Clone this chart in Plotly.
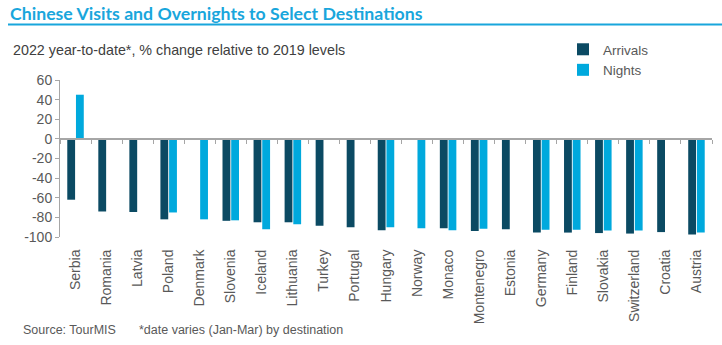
import plotly.graph_objects as go

countries = ["Serbia", "Romania", "Latvia", "Poland", "Denmark", "Slovenia", "Iceland",
             "Lithuania", "Turkey", "Portugal", "Hungary", "Norway", "Monaco", "Montenegro",
             "Estonia", "Germany", "Finland", "Slovakia", "Switzerland", "Croatia", "Austria"]
arrivals = [-62, -74, -74.5, -82, None, -83.5, -85, -85, -88.5, -90, -93, None, -91, -94,
            -92, -95.5, -95.5, -96, -96.5, -95, -97.5]
nights = [45, None, None, -75, -82, -83, -92, -87, None, None, -90, -91, -93, -91.5,
          None, -92.5, -92.5, -93.5, -93.5, None, -95.5]

y_ticks = [60, 40, 20, 0, -20, -40, -60, -80, -100]
y_labels = ["60", "40", "20", "0", "-20", "-40", "-60", "-80", "-100"]

DARK = "#0b4a63"
CYAN = "#00a9dd"
GREY_TXT = "#595959"
AXIS = "#a6a6a6"
TITLE_C = "#19a6dc"

W, H = 722, 345
L, R, T, B = 60, 10, 80, 108
PW = W - L - R
PH = H - T - B


def px_x(px):
    return (px - L) / PW


def px_y(py):
    return (H - B - py) / PH


fig = go.Figure()
fig.add_trace(go.Bar(x=countries, y=arrivals, name="Arrivals", marker_color=DARK,
                     marker_line_width=0))
fig.add_trace(go.Bar(x=countries, y=nights, name="Nights", marker_color=CYAN,
                     marker_line_width=0))
# helper trace so that the zero-line axis knows the categories
fig.add_trace(go.Scatter(x=countries, y=[None] * len(countries), xaxis="x2",
                         mode="markers", showlegend=False, hoverinfo="skip"))

fig.update_layout(
    width=W, height=H,
    margin=dict(l=L, r=R, t=T, b=B, pad=0),
    paper_bgcolor="white", plot_bgcolor="white",
    barmode="group", bargap=0.44, bargroupgap=0.1,
    font=dict(family="Liberation Sans, Arial, sans-serif", color=GREY_TXT, size=14),
    showlegend=True,
    legend=dict(x=px_x(563), y=px_y(34), xanchor="left", yanchor="top",
                font=dict(size=13.5, color=GREY_TXT), bgcolor="rgba(0,0,0,0)",
                tracegroupgap=0, itemwidth=30),
    xaxis=dict(type="category", range=[-0.5, len(countries) - 0.5],
               tickangle=-90, ticks="outside", ticklen=6, tickcolor="rgba(0,0,0,0)",
               showline=False, showgrid=False, zeroline=False,
               tickfont=dict(size=14, color=GREY_TXT)),
    xaxis2=dict(type="category", overlaying="x", anchor="free",
                position=(0 - (-100)) / (60 - (-100)),
                range=[-0.5, len(countries) - 0.5], showticklabels=False,
                showline=True, linecolor=AXIS, linewidth=1.5,
                ticks="outside", ticklen=4, tickcolor=AXIS, tickwidth=1,
                tickson="boundaries", showgrid=False, zeroline=False),
    yaxis=dict(range=[-100, 60], tickvals=y_ticks, ticktext=y_labels, showgrid=False,
               zeroline=False, showline=True, linecolor=AXIS, linewidth=1,
               ticks="outside", ticklen=4, tickcolor=AXIS,
               tickfont=dict(size=14, color=GREY_TXT)),
)

fig.add_annotation(text="<b>Chinese Visits and Overnights to Select Destinations</b>",
                   xref="paper", yref="paper", x=px_x(8), y=px_y(13), xanchor="left",
                   yanchor="middle", showarrow=False,
                   font=dict(family="Lato, Open Sans, sans-serif", size=17.7, color=TITLE_C))
fig.add_shape(type="line", xref="paper", yref="paper", x0=px_x(8), x1=px_x(722),
              y0=px_y(24.5), y1=px_y(24.5), line=dict(color=TITLE_C, width=2))
fig.add_annotation(text="2022 year-to-date*, % change relative to 2019 levels",
                   xref="paper", yref="paper", x=px_x(11), y=px_y(50), xanchor="left",
                   yanchor="middle", showarrow=False,
                   font=dict(size=14.3, color="#404040"))
fig.add_annotation(text="Source: TourMIS", xref="paper", yref="paper", x=px_x(21),
                   y=px_y(330), xanchor="left", yanchor="middle", showarrow=False,
                   font=dict(size=12.5, color=GREY_TXT))
fig.add_annotation(text="*date varies (Jan-Mar) by destination", xref="paper", yref="paper",
                   x=px_x(137), y=px_y(330), xanchor="left", yanchor="middle",
                   showarrow=False, font=dict(size=12.5, color=GREY_TXT))

fig.write_html("out.html")
